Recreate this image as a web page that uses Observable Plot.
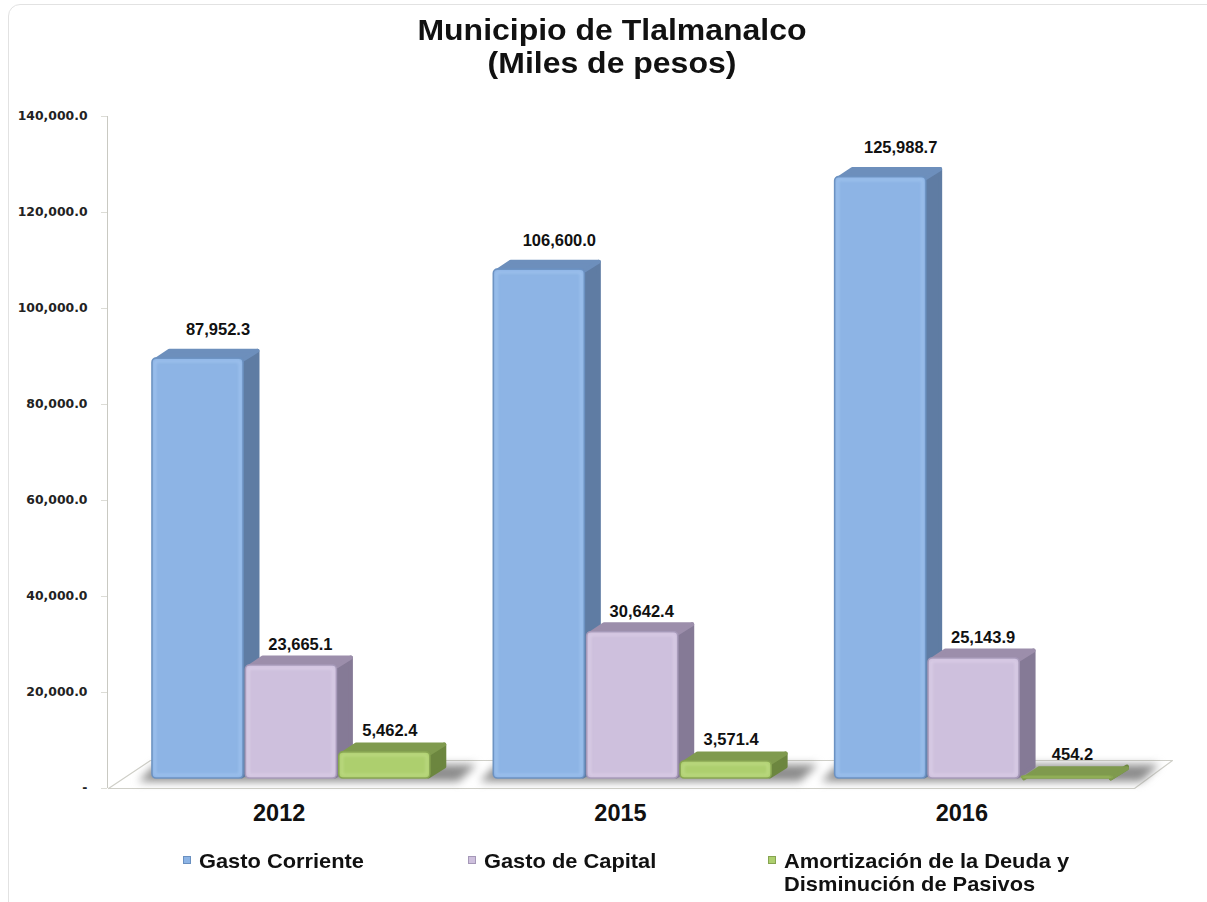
<!DOCTYPE html>
<html><head><meta charset="utf-8">
<script src="https://cdn.jsdelivr.net/npm/d3@7"></script>
<script src="https://cdn.jsdelivr.net/npm/@observablehq/plot@0.6"></script>
<style>
html,body{margin:0;padding:0;background:#fff;width:1207px;height:902px;overflow:hidden;font-family:"Liberation Sans",Arial,sans-serif;}
#card{position:absolute;left:8px;top:4px;width:1230px;height:930px;border:1px solid #e2e2e2;border-radius:12px;box-sizing:border-box;}
#title{position:absolute;left:0;top:13px;width:1224px;text-align:center;font-weight:bold;font-size:29.5px;line-height:33px;color:#111;transform:scaleX(1.084);}
#chart{position:absolute;left:0;top:100px;}
.lg{position:absolute;font-weight:bold;font-size:20.5px;line-height:23px;color:#111;white-space:nowrap;transform:scaleX(1.065);transform-origin:left center;}
.sw{position:absolute;width:8px;height:8px;box-sizing:border-box;border:1px solid;}
</style></head><body>
<div id="card"></div>
<div id="title">Municipio de Tlalmanalco<br>(Miles de pesos)</div>
<div id="chart"></div>
<div id="legend"></div>
<script>
const years = ["2012", "2015", "2016"];
const seriesNames = ["Gasto Corriente", "Gasto de Capital", "Amortización de la Deuda y\nDisminución de Pasivos"];
const gastoCorriente = [87952.3, 106600.0, 125988.7];
const gastoCapital = [23665.1, 30642.4, 25143.9];
const amortizacion = [5462.4, 3571.4, 454.2];
const yTicks = [0, 20000, 40000, 60000, 80000, 100000, 120000, 140000];

const seriesValues = [gastoCorriente, gastoCapital, amortizacion];
const palette = [
  {front:"#8DB4E5", rim:"#6A90C0", glow:"#B9D6FA", top:"#6D8FBC", side:"#5F7CA3"},
  {front:"#CEC0DD", rim:"#A598B8", glow:"#EDE3F6", top:"#9C8EAB", side:"#857A96"},
  {front:"#ADCF6E", rim:"#86A450", glow:"#D4EBA2", top:"#7F9A4E", side:"#6C863F"}
];

// layout helpers: pixel lengths converted to data units, so everything goes through the scales
const W = 1207, H = 730, mL = 108, mR = 75, mT = 16, mB = 42;
const ux = n => n * 3 / (W - mL - mR);
const uy = n => n * 140000 / (H - mT - mB);
const barW = ux(91), pitch = ux(93.4), start = ux(44);
const depthX = ux(16), depthY = uy(10), floorY = uy(10), persp = 0.9945;
const labelOff = [{dx:20, dy:-19}, {dx:9, dy:-11}, {dx:5, dy:-12}];

const bars = [];
years.forEach((year, i) => seriesValues.forEach((vals, s) => {
  const x1 = i + start + s * pitch, x2 = x1 + barW;
  const y1 = floorY, y2 = floorY + vals[i] * persp;
  bars.push({year, s, value: vals[i], x1, x2, y1, y2, c: palette[s]});
}));

const faces = bars.flatMap((b, k) => {
  const j = ux(2), jy = uy(2);
  const side = [[b.x2 - j, b.y1 + jy], [b.x2 + depthX - j, b.y1 + depthY + jy], [b.x2 + depthX - j, b.y2 + depthY - jy], [b.x2 - j, b.y2 - jy]];
  const top = [[b.x1 + j, b.y2 - jy], [b.x1 + depthX + j / 2, b.y2 + depthY - jy], [b.x2 + depthX - j, b.y2 + depthY - jy], [b.x2 - j, b.y2 - jy]];
  return [
    ...side.map(([x, y]) => ({x, y, z: k + "s", col: b.c.side})),
    ...top.map(([x, y]) => ({x, y, z: k + "t", col: b.c.top}))
  ];
});

const floorBack = uy(28);
const floorPoly = [[0, 0], [ux(1026), 0], [ux(1064), floorBack], [ux(42), floorBack]].map(([x, y]) => ({x, y}));
const shadows = years.flatMap((year, i) => [
  [i + ux(30), uy(7)], [i + ux(350), uy(7)], [i + ux(368), uy(24)], [i + ux(47), uy(24)]
].map(([x, y]) => ({x, y, year})));

const plot = Plot.plot({
  width: W, height: H,
  marginLeft: mL, marginRight: mR, marginTop: mT, marginBottom: mB,
  style: {background: "transparent", overflow: "visible"},
  x: {type: "linear", domain: [0, 3], axis: null},
  y: {type: "linear", domain: [0, 140000], axis: null},
  color: {type: "identity"},
  marks: [
    Plot.line(floorPoly.concat(floorPoly[0]), {x: "x", y: "y", fill: "#ffffff", stroke: "#cfcfc8", strokeWidth: 1.2}),
    Plot.line(shadows, {x: "x", y: "y", z: "year", fill: "#8c8c8c", stroke: "none", imageFilter: "blur(4px)"}),
    Plot.ruleX([0], {y1: 0, y2: 140000, stroke: "#c9c9c2", strokeWidth: 1, dx: -1}),
    Plot.ruleY(yTicks, {x1: -ux(6), x2: 0, stroke: "#dcdcd6", dx: -1}),
    Plot.axisY({ticks: yTicks, anchor: "left", label: null, tickSize: 0, tickPadding: 21,
      tickFormat: d => d === 0 ? "-" : d3.format(",.1f")(d),
      fontFamily: "DejaVu Sans", fontWeight: "bold", fontSize: 12.4, fill: "#222"}),
    Plot.line(faces, {x: "x", y: "y", z: "z", fill: "col", stroke: "col", strokeWidth: 4, strokeLinejoin: "round"}),
    Plot.rect(bars, {x1: "x1", x2: "x2", y1: "y1", y2: "y2", fill: d => d.c.front, stroke: d => d.c.rim, strokeWidth: 1.6, rx: 4}),
    Plot.rect(bars.filter(b => b.value > 2000), {x1: "x1", x2: "x2", y1: "y1", y2: "y2", fill: "none", stroke: d => d.c.glow, strokeWidth: 2.2, strokeOpacity: 0.45, inset: 3, rx: 2, imageFilter: "blur(1.5px)"}),
    ...labelOff.map((o, s) => Plot.text(bars.filter(b => b.s === s), {
      x: d => (d.x1 + d.x2) / 2, y: d => d.y2 + depthY, text: d => d3.format(",.1f")(d.value),
      dx: o.dx, dy: o.dy, fontFamily: "Liberation Sans", fontWeight: "bold", fontSize: 16.5, fill: "#111"})),
    Plot.text(years, {x: (d, i) => i + 0.5, y: 0, text: d => d, dy: 25, fontFamily: "Liberation Sans", fontWeight: "bold", fontSize: 23.5, fill: "#111"})
  ]
});
document.getElementById("chart").appendChild(plot);

const legendPos = [{sx:183, tx:199}, {sx:468, tx:484}, {sx:768, tx:784}];
const legend = document.getElementById("legend");
seriesNames.forEach((name, s) => {
  const sw = document.createElement("div");
  sw.className = "sw";
  sw.style.cssText = `left:${legendPos[s].sx}px;top:856px;background:${palette[s].front};border-color:${palette[s].rim}`;
  legend.appendChild(sw);
  const t = document.createElement("div");
  t.className = "lg";
  t.style.cssText = `left:${legendPos[s].tx}px;top:849px`;
  t.innerHTML = name.replace("\n", "<br>");
  legend.appendChild(t);
});
</script>
</body></html>
